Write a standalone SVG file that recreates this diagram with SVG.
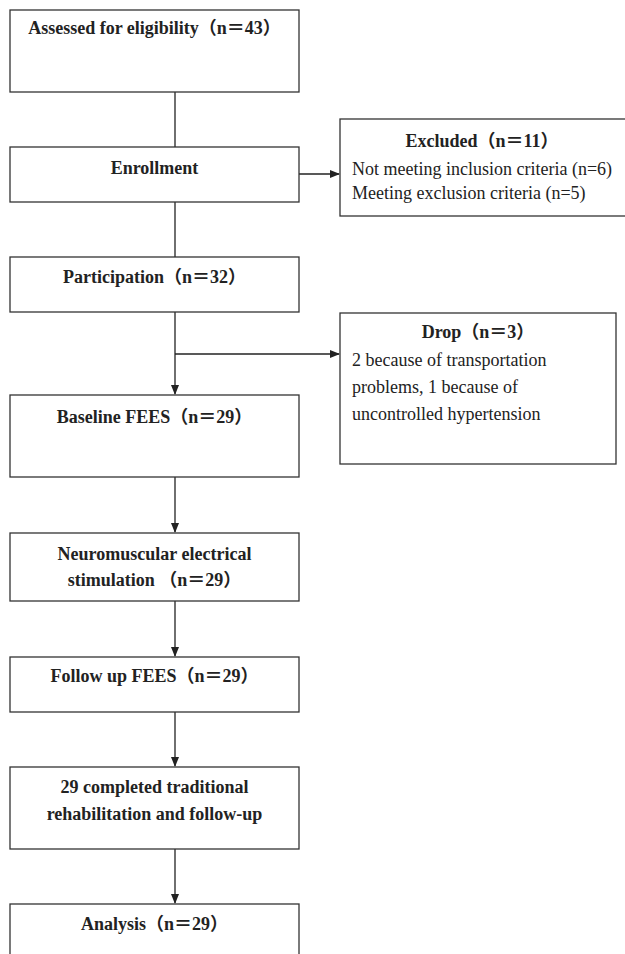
<svg xmlns="http://www.w3.org/2000/svg" width="625" height="954" viewBox="0 0 625 954">
<style>
.box{fill:#fff;stroke:#333;stroke-width:1.3}
.t{font-family:"Liberation Serif","Noto Sans CJK SC",serif;font-size:18px;fill:#222}
.b{font-weight:bold;text-anchor:middle}
.c{stroke:#222;stroke-width:1.3;fill:none}
</style>
<defs>
<marker id="ah" markerWidth="10" markerHeight="8" refX="9" refY="4" orient="auto" markerUnits="userSpaceOnUse">
<path d="M0,0 L10,4 L0,8 Z" fill="#222"/>
</marker>
</defs>
<rect width="625" height="954" fill="#fff"/>
<g id="connectors">
<line class="c" x1="175" y1="92" x2="175" y2="147"/>
<line class="c" x1="175" y1="202" x2="175" y2="257"/>
<line class="c" x1="299" y1="174" x2="339" y2="174" marker-end="url(#ah)"/>
<line class="c" x1="175" y1="312" x2="175" y2="394" marker-end="url(#ah)"/>
<line class="c" x1="175" y1="354" x2="339" y2="354" marker-end="url(#ah)"/>
<line class="c" x1="175" y1="477" x2="175" y2="532" marker-end="url(#ah)"/>
<line class="c" x1="175" y1="601" x2="175" y2="656" marker-end="url(#ah)"/>
<line class="c" x1="175" y1="712" x2="175" y2="766" marker-end="url(#ah)"/>
<line class="c" x1="175" y1="849" x2="175" y2="903" marker-end="url(#ah)"/>
</g>
<g id="assessed">
<rect class="box" x="10" y="10" width="289" height="82"/>
<text class="t b" x="154.5" y="34">Assessed for eligibility（n＝43）</text>
</g>
<g id="enrollment">
<rect class="box" x="10" y="147" width="289" height="55"/>
<text class="t b" x="154.5" y="174">Enrollment</text>
</g>
<g id="excluded">
<rect class="box" x="340" y="119" width="300" height="97"/>
<text class="t b" x="482" y="147">Excluded（n＝11）</text>
<text class="t" x="352" y="175">Not meeting inclusion criteria (n=6)</text>
<text class="t" x="352" y="199">Meeting exclusion criteria (n=5)</text>
</g>
<g id="participation">
<rect class="box" x="10" y="257" width="289" height="55"/>
<text class="t b" x="154.5" y="283">Participation（n＝32）</text>
</g>
<g id="drop">
<rect class="box" x="340" y="313" width="276" height="151"/>
<text class="t b" x="478" y="338">Drop（n＝3）</text>
<text class="t" x="352" y="366">2 because of transportation</text>
<text class="t" x="352" y="393">problems, 1 because of</text>
<text class="t" x="352" y="420">uncontrolled hypertension</text>
</g>
<g id="baseline">
<rect class="box" x="10" y="395" width="289" height="82"/>
<text class="t b" x="154.5" y="423">Baseline FEES（n＝29）</text>
</g>
<g id="nmes">
<rect class="box" x="10" y="533" width="289" height="68"/>
<text class="t b" x="154.5" y="560">Neuromuscular electrical</text>
<text class="t b" x="154.5" y="586">stimulation （n＝29）</text>
</g>
<g id="followup">
<rect class="box" x="10" y="657" width="289" height="55"/>
<text class="t b" x="154.5" y="682">Follow up FEES（n＝29）</text>
</g>
<g id="completed">
<rect class="box" x="10" y="767" width="289" height="82"/>
<text class="t b" x="154.5" y="793">29 completed traditional</text>
<text class="t b" x="154.5" y="820">rehabilitation and follow-up</text>
</g>
<g id="analysis">
<rect class="box" x="10" y="904" width="289" height="70"/>
<text class="t b" x="154.5" y="930">Analysis（n＝29）</text>
</g>
</svg>
